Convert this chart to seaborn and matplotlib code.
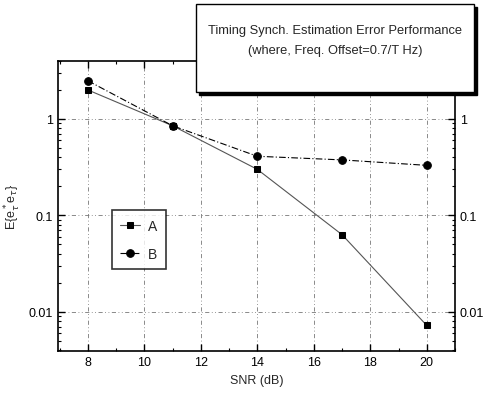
import numpy as np
import pandas as pd
import matplotlib
matplotlib.use("Agg")
import matplotlib.pyplot as plt
import seaborn as sns
from matplotlib.patches import Rectangle
from matplotlib.ticker import LogLocator, FixedLocator, NullFormatter

sns.set_theme(style="ticks")
plt.rcParams['font.family'] = ['Liberation Sans', 'DejaVu Sans']

# data
snr = [8, 11, 14, 17, 20]
err_a = [2.0, 0.85, 0.30, 0.063, 0.0072]
err_b = [2.49, 0.85, 0.41, 0.376, 0.33]
x_ticks = [8, 10, 12, 14, 16, 18, 20]
y_ticks = [0.01, 0.1, 1]
y_ticklabels = ["0.01", "0.1", "1"]

df = pd.DataFrame({"SNR": snr + snr,
                   "err": err_a + err_b,
                   "series": ["A"] * len(snr) + ["B"] * len(snr)})

fig = plt.figure(figsize=(4.93, 4.02), dpi=100)
ax = fig.add_axes([0.118, 0.124, 0.805, 0.722])

sns.lineplot(data=df[df.series == "A"], x="SNR", y="err", ax=ax,
             color="#555555", lw=0.8, marker="s", markersize=5,
             markerfacecolor="black", markeredgecolor="black", label="A")
sns.lineplot(data=df[df.series == "B"], x="SNR", y="err", ax=ax,
             color="black", lw=0.8, linestyle=(0, (6, 2, 1, 2)), marker="o",
             markersize=5.5, markerfacecolor="black", markeredgecolor="black",
             label="B")

ax.set_yscale("log")
ax.set_xlim(6.95, 21.0)
ax.set_ylim(0.0039, 4.0)

ax.xaxis.set_major_locator(FixedLocator(x_ticks))
ax.xaxis.set_minor_locator(FixedLocator([7, 9, 11, 13, 15, 17, 19, 21]))
ax.yaxis.set_major_locator(FixedLocator(y_ticks))
ax.set_yticklabels(y_ticklabels)
ax.yaxis.set_minor_locator(LogLocator(base=10, subs=np.arange(2, 10)))
ax.yaxis.set_minor_formatter(NullFormatter())

ax.tick_params(which="both", direction="in", top=True, right=True,
               labelright=True, labelsize=9, colors="black")
ax.tick_params(which="major", length=5, width=1)
ax.tick_params(which="minor", length=2.5, width=0.8)

ax.grid(True, which="major", color="#777777", lw=0.6,
        linestyle=(0, (5, 3, 1, 3, 1, 3)))
for s in ax.spines.values():
    s.set_color("black")
    s.set_linewidth(1.2)

ax.set_xlabel("SNR (dB)", fontsize=9)
ax.set_ylabel(r"E{e$_\tau^*$e$_\tau$}", fontsize=9)

leg = ax.legend(loc="upper left", bbox_to_anchor=(0.136, 0.485), fontsize=10,
                frameon=True, fancybox=False, edgecolor="black",
                handlelength=1.4, handletextpad=0.6, borderpad=0.6,
                labelspacing=1.0, borderaxespad=0)
leg.get_frame().set_linewidth(1.2)

# title box with shadow, over the top of the axes
W, H = 493.0, 402.0
bx0, by0, bx1, by1 = 196 / W, 1 - 93 / H, 474 / W, 1 - 5 / H
fig.patches.append(Rectangle((bx0 + 3 / W, by0 - 3 / H), bx1 - bx0, by1 - by0,
                             transform=fig.transFigure, facecolor="black",
                             edgecolor="black", zorder=10))
fig.patches.append(Rectangle((bx0, by0), bx1 - bx0, by1 - by0,
                             transform=fig.transFigure, facecolor="white",
                             edgecolor="black", lw=1.0, zorder=11))
fig.text((bx0 + bx1) / 2, 1 - 31 / H,
         "Timing Synch. Estimation Error Performance",
         ha="center", va="center", fontsize=9.3, zorder=12)
fig.text((bx0 + bx1) / 2, 1 - 51 / H, "(where, Freq. Offset=0.7/T Hz)",
         ha="center", va="center", fontsize=9.3, zorder=12)

fig.savefig("out.png", dpi=100)
